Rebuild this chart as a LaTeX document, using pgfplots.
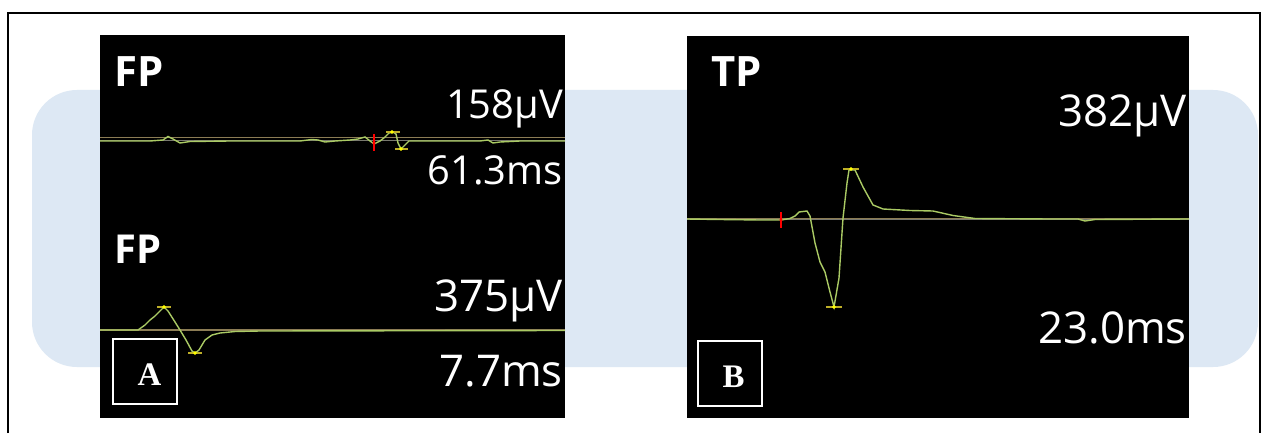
\documentclass[border=0pt]{standalone}
\usepackage{fontspec}
\setmainfont{Open Sans}
\newfontfamily\serifb{Liberation Serif}
\usepackage{pgfplots}
\pgfplotsset{compat=1.18}
\definecolor{trace}{RGB}{170,202,100}
\definecolor{base}{RGB}{140,125,85}
\definecolor{basegray}{RGB}{120,120,110}
\definecolor{bgblue}{RGB}{221,232,244}
\definecolor{mk}{RGB}{255,255,0}
\definecolor{mkline}{RGB}{190,175,40}
\begin{document}
\begin{tikzpicture}
\begin{axis}[scale only axis, width=1264bp, height=432bp,
  xmin=0, xmax=1264, ymin=0, ymax=432, y dir=reverse,
  hide axis, clip=false]
% background and frames
\fill[white] (axis cs:0,0) rectangle (axis cs:1264,432);
\draw[black, line width=2bp] (axis cs:8,433) -- (axis cs:8,13) -- (axis cs:1260,13) -- (axis cs:1260,433);
\fill[bgblue, rounded corners=45bp] (axis cs:32,90) rectangle (axis cs:1258,367);
\fill[black] (axis cs:100,35) rectangle (axis cs:565,418);
\fill[black] (axis cs:687,36) rectangle (axis cs:1189,418);
% baselines
\addplot[base, line width=1bp] coordinates {(100,137) (565,137)};
\addplot[basegray, line width=1bp] coordinates {(100,140) (565,140)};
\addplot[base, line width=1.2bp] coordinates {(100,330) (565,330)};
\addplot[base, line width=1bp] coordinates {(687,218) (1189,218)};
\addplot[basegray, line width=0.8bp] coordinates {(687,219.5) (1189,219.5)};
% panel A top trace
\addplot[trace, line width=1.4bp] coordinates {
(100,141) (150,141) (163,140) (168,136.5) (173,139) (180,143) (190,141.5) (230,141)
(300,141) (312,139.5) (318,140) (325,142) (335,141) (350,140) (358,139) (365,137)
(370,141) (374,144) (380,141) (385,137) (389,133) (393,132) (396,134) (398,143)
(401,149) (405,145) (409,141) (420,141) (480,141) (488,140) (493,143) (500,142)
(520,141) (565,141)};
% panel A bottom trace
\addplot[trace, line width=1.4bp] coordinates {
(100,330) (138,330) (145,325) (150,320) (155,316) (164,307) (168,311) (175,322)
(180,330) (186,340) (192,351) (195,353) (199,350) (205,340) (212,335) (220,333)
(235,331.5) (260,331) (565,330.5)};
% panel B trace
\addplot[trace, line width=1.4bp] coordinates {
(687,219) (720,219.5) (760,220) (781,220) (790,218.5) (795,216) (799,212) (807,211)
(810,216) (815,243) (820,262) (825,272) (830,292) (834,307) (839,278) (843,218)
(847,183) (849,170) (855,170) (863,187) (873,205) (883,209) (910,210.5) (933,211)
(953,215.5) (975,218.5) (1050,219) (1078,219) (1085,221) (1095,219.5) (1189,219)};
% marker ticks
\addplot[mkline, line width=1.2bp] coordinates {(386,132) (400,132)};
\addplot[mkline, line width=1.2bp] coordinates {(395,149) (408,149)};
\addplot[mkline, line width=1.2bp] coordinates {(157,307) (171,307)};
\addplot[mkline, line width=1.2bp] coordinates {(188,353) (202,353)};
\addplot[mkline, line width=1.2bp] coordinates {(843,169) (859,169)};
\addplot[mkline, line width=1.2bp] coordinates {(826,307) (842,307)};
\addplot[only marks, mark=*, mark size=1.6bp, mk] coordinates {
(392,132) (401,149) (164,307) (195,353) (851,169) (834,307)};
% red cursors
\addplot[red, line width=1.2bp] coordinates {(374,134) (374,151)};
\addplot[red, line width=1.2bp] coordinates {(781,212) (781,228)};
\addplot[only marks, mark=*, mark size=1.3bp, red] coordinates {(374,143) (781,220)};
% labels
\node[anchor=base west, inner sep=0pt, text=white, font=\fontsize{42}{42}\selectfont\bfseries] at (axis cs:114,87) {FP};
\node[anchor=base west, inner sep=0pt, text=white, font=\fontsize{40}{40}\selectfont\bfseries] at (axis cs:114,263) {FP};
\node[anchor=base west, inner sep=0pt, text=white, font=\fontsize{42}{42}\selectfont\bfseries] at (axis cs:711,87) {TP};
\node[anchor=base east, text=white, font=\fontsize{40}{40}\selectfont, inner sep=0pt] at (axis cs:563,118) {158µV};
\node[anchor=base east, text=white, font=\fontsize{40}{40}\selectfont, inner sep=0pt] at (axis cs:563,184) {61.3ms};
\node[anchor=base east, text=white, font=\fontsize{44}{44}\selectfont, inner sep=0pt] at (axis cs:563,311) {375µV};
\node[anchor=base east, text=white, font=\fontsize{44}{44}\selectfont, inner sep=0pt] at (axis cs:563,386) {7.7ms};
\node[anchor=base east, text=white, font=\fontsize{44}{44}\selectfont, inner sep=0pt] at (axis cs:1187,126) {382µV};
\node[anchor=base east, text=white, font=\fontsize{44}{44}\selectfont, inner sep=0pt] at (axis cs:1187,343) {23.0ms};
% boxes
\draw[white, line width=2bp] (axis cs:113,339) rectangle (axis cs:177,404);
\draw[white, line width=2bp] (axis cs:698,341) rectangle (axis cs:762,406);
\node[anchor=base, inner sep=0pt, text=white, font=\serifb\bfseries\fontsize{33}{33}\selectfont] at (axis cs:149.5,385) {A};
\node[anchor=base, inner sep=0pt, text=white, font=\serifb\bfseries\fontsize{33}{33}\selectfont] at (axis cs:733.5,387) {B};
\end{axis}
\end{tikzpicture}
\end{document}
